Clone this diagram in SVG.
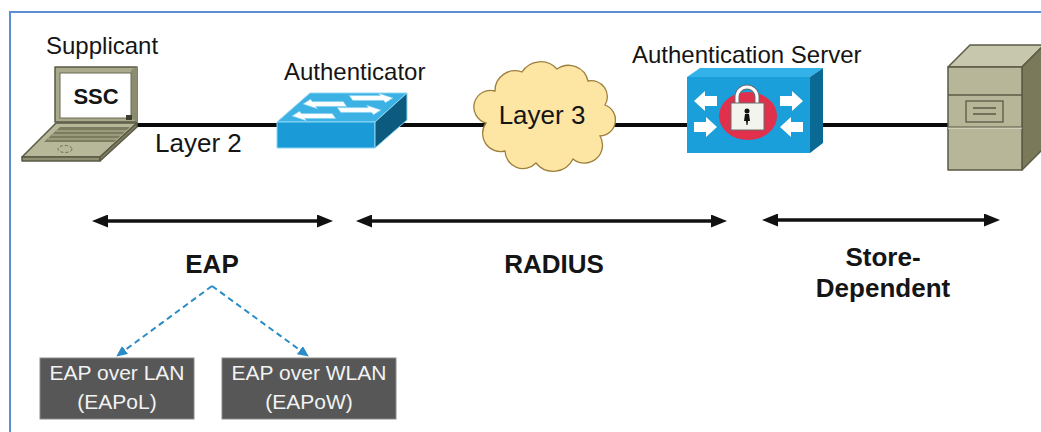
<svg xmlns="http://www.w3.org/2000/svg" width="1041" height="432" viewBox="0 0 1041 432">
  <style>
    .lbl { font-family: "Liberation Sans", Arial, sans-serif; font-size: 24px; fill: #151515; }
    .big { font-family: "Liberation Sans", Arial, sans-serif; font-size: 26px; fill: #151515; }
    .proto { font-family: "Liberation Sans", Arial, sans-serif; font-size: 26px; font-weight: bold; fill: #151515; text-anchor: middle; }
    .boxtxt { font-family: "Liberation Sans", Arial, sans-serif; font-size: 21px; fill: #f2f2f2; text-anchor: middle; }
    .span { stroke: #111; stroke-width: 3.5; fill: none; marker-start: url(#blackHead); marker-end: url(#blackHead); }
    .dash { stroke: #2a8cc6; stroke-width: 2; stroke-dasharray: 6 4; fill: none; marker-end: url(#blueHead); }
    .box { fill: #575757; stroke: #8a8a8a; stroke-width: 1; }
    .olive { stroke: #5a5a45; stroke-width: 1.5; stroke-linejoin: round; }
  </style>
  <defs>
    <marker id="blackHead" markerUnits="userSpaceOnUse" markerWidth="17" markerHeight="13" refX="3" refY="6.5" orient="auto-start-reverse">
      <path d="M0,0 L16,6.5 L0,13 Z" fill="#111"/>
    </marker>
    <marker id="blueHead" markerUnits="userSpaceOnUse" markerWidth="11" markerHeight="10" refX="10" refY="5" orient="auto">
      <path d="M0,0 L11,5 L0,10 Z" fill="#2a8cc6"/>
    </marker>
    <!-- white arrow glyph for the switch top, tip at origin, pointing right -->
    <path id="swArrow" d="M0,0 L-11,-6 L-11,-3 L-42,-3 L-42,3 L-11,3 L-11,6 Z" fill="#fff" stroke="#7fcff0" stroke-width="0.6"/>
    <!-- chunky white arrow for the security appliance, tip at origin, pointing right -->
    <path id="secArrow" d="M0,0 L-11,-10 L-11,-5 L-23,-5 L-23,5 L-11,5 L-11,10 Z" fill="#fff"/>
  </defs>

  <!-- page frame -->
  <rect x="10" y="12" width="1040" height="430" fill="#fff" stroke="#5b8fd0" stroke-width="2"/>

  <!-- connectors -->
  <g id="connectors">
    <line x1="137" y1="125" x2="950" y2="125" stroke="#0a0a0a" stroke-width="4"/>
    <line class="span" x1="105" y1="221" x2="320" y2="221"/>
    <line class="span" x1="369" y1="221" x2="714" y2="221"/>
    <line class="span" x1="775" y1="220" x2="987" y2="220"/>
    <line class="dash" x1="212" y1="286" x2="117" y2="356"/>
    <line class="dash" x1="212" y1="286" x2="308" y2="356"/>
  </g>

  <!-- supplicant laptop -->
  <g id="supplicant">
    <text class="lbl" x="46" y="54">Supplicant</text>
    <polygon class="olive" points="55,67 137,67 137,122 55,122" fill="#a9a98b"/>
    <polygon points="131,70 137,67 137,122 131,118" fill="#8c8c70"/>
    <rect x="60" y="73" width="71" height="45" fill="#fff" stroke="#6b6b55" stroke-width="1"/>
    <rect x="126" y="115" width="6" height="5" fill="#3d3d30"/>
    <text x="96" y="104" text-anchor="middle" font-family="Liberation Sans, Arial, sans-serif" font-size="22" font-weight="bold" fill="#151515">SSC</text>
    <polygon class="olive" points="56,123 137,123 100,157 22,157" fill="#b7b799"/>
    <polygon class="olive" points="22,157 100,157 100,161 22,161" fill="#8e8e72"/>
    <polygon class="olive" points="100,157 137,123 137,127 100,161" fill="#7f7f63"/>
    <polygon points="60,127 130,127 114,142 44,142" fill="#7c7c60"/>
    <g stroke="#b7b799" stroke-width="1.2">
      <line x1="56" y1="131" x2="126" y2="131"/>
      <line x1="52" y1="135" x2="122" y2="135"/>
      <line x1="48" y1="139" x2="118" y2="139"/>
    </g>
    <ellipse cx="65" cy="149" rx="7" ry="3.5" fill="none" stroke="#6f6f58" stroke-width="1" stroke-dasharray="3 2"/>
    <text class="big" x="155" y="152">Layer 2</text>
  </g>

  <!-- authenticator switch -->
  <g id="authenticator">
    <text class="lbl" x="284" y="80">Authenticator</text>
    <polygon points="277,122 310,93 407,93 375,122" fill="#3cb1e4" stroke="#8ad6f5" stroke-width="1"/>
    <polygon points="277,122 375,122 375,148 277,148" fill="#1a9ad6" stroke="#8ad6f5" stroke-width="1"/>
    <polygon points="375,122 407,93 407,120 375,148" fill="#0c5a7e" stroke="#8ad6f5" stroke-width="1"/>
    <use href="#swArrow" transform="translate(303,104) scale(-1,0.8) skewX(-30)"/>
    <use href="#swArrow" transform="translate(393,98) scale(1,0.8) skewX(30)"/>
    <use href="#swArrow" transform="translate(292,116) scale(-1,0.8) skewX(-30)"/>
    <use href="#swArrow" transform="translate(381,110) scale(1,0.8) skewX(30)"/>
  </g>

  <!-- layer 3 cloud -->
  <g id="cloud">
    <path d="M486,123 A16,16 0 0 1 495,91 A20,20 0 0 1 522,72 A22,22 0 0 1 557,69 A20,20 0 0 1 588,81 A16,16 0 0 1 605,105 A16,16 0 0 1 600,136 A18,18 0 0 1 573,159 A22,22 0 0 1 536,163 A18,18 0 0 1 505,151 A18,18 0 0 1 486,123 Z" fill="#fde6a4" stroke="#9c7f3c" stroke-width="1.3"/>
    <text class="big" x="542" y="124" text-anchor="middle">Layer 3</text>
  </g>

  <!-- authentication server appliance -->
  <g id="auth-server">
    <text class="lbl" x="632" y="63">Authentication Server</text>
    <polygon points="687,77 700,68 823,68 810,77" fill="#33b2ea"/>
    <polygon points="810,77 823,68 823,143 810,153" fill="#0b6a94"/>
    <rect x="687" y="77" width="123" height="76" fill="#1b9fda"/>
    <use href="#secArrow" transform="translate(694,101) scale(-1,1)"/>
    <use href="#secArrow" transform="translate(717,127)"/>
    <use href="#secArrow" transform="translate(803,101)"/>
    <use href="#secArrow" transform="translate(780,127) scale(-1,1)"/>
    <ellipse cx="748" cy="116" rx="29" ry="24" fill="#e0304c"/>
    <path d="M737,104 V97 A10,10 0 0 1 757,97 V104" fill="none" stroke="#6a6a6a" stroke-width="5"/>
    <path d="M737,104 V97 A10,10 0 0 1 757,97 V104" fill="none" stroke="#fff" stroke-width="3"/>
    <rect x="731" y="103" width="33" height="27" fill="#f4f4ee" stroke="#6a6a6a" stroke-width="1"/>
    <circle cx="747" cy="111" r="2.5" fill="#111"/>
    <path d="M745,114 L749,114 L750,121 L748,121 L747.5,125 L746.5,125 L746,121 L744,121 Z" fill="#111"/>
  </g>

  <!-- directory store tower -->
  <g id="store">
    <polygon class="olive" points="948,67 970,45 1044,45 1022,67" fill="#c7c7ae"/>
    <polygon class="olive" points="1022,67 1044,45 1044,148 1022,170" fill="#7a7a5a"/>
    <rect class="olive" x="948" y="67" width="74" height="103" fill="#b7b699"/>
    <line x1="948" y1="95" x2="1022" y2="95" stroke="#5a5a45" stroke-width="1.3"/>
    <line x1="948" y1="128" x2="1022" y2="128" stroke="#d8d8c6" stroke-width="1.3"/>
    <line x1="948" y1="127" x2="1022" y2="127" stroke="#5a5a45" stroke-width="1"/>
    <rect x="966" y="101" width="37" height="21" fill="#b7b699" stroke="#5a5a45" stroke-width="1.3"/>
    <line x1="973" y1="108" x2="996" y2="108" stroke="#5a5a45" stroke-width="1.5"/>
    <line x1="973" y1="114" x2="996" y2="114" stroke="#5a5a45" stroke-width="1.5"/>
  </g>

  <!-- protocol labels -->
  <g id="eap">
    <text class="proto" x="212" y="273">EAP</text>
  </g>
  <g id="radius">
    <text class="proto" x="554" y="273">RADIUS</text>
  </g>
  <g id="store-dependent">
    <text class="proto" x="883" y="266">Store-</text>
    <text class="proto" x="883" y="297">Dependent</text>
  </g>

  <!-- EAP transports -->
  <g id="eapol">
    <rect class="box" x="40" y="358" width="154" height="61"/>
    <text class="boxtxt" x="117" y="380">EAP over LAN</text>
    <text class="boxtxt" x="117" y="409">(EAPoL)</text>
  </g>
  <g id="eapow">
    <rect class="box" x="222" y="358" width="174" height="61"/>
    <text class="boxtxt" x="309" y="380">EAP over WLAN</text>
    <text class="boxtxt" x="309" y="409">(EAPoW)</text>
  </g>
</svg>
